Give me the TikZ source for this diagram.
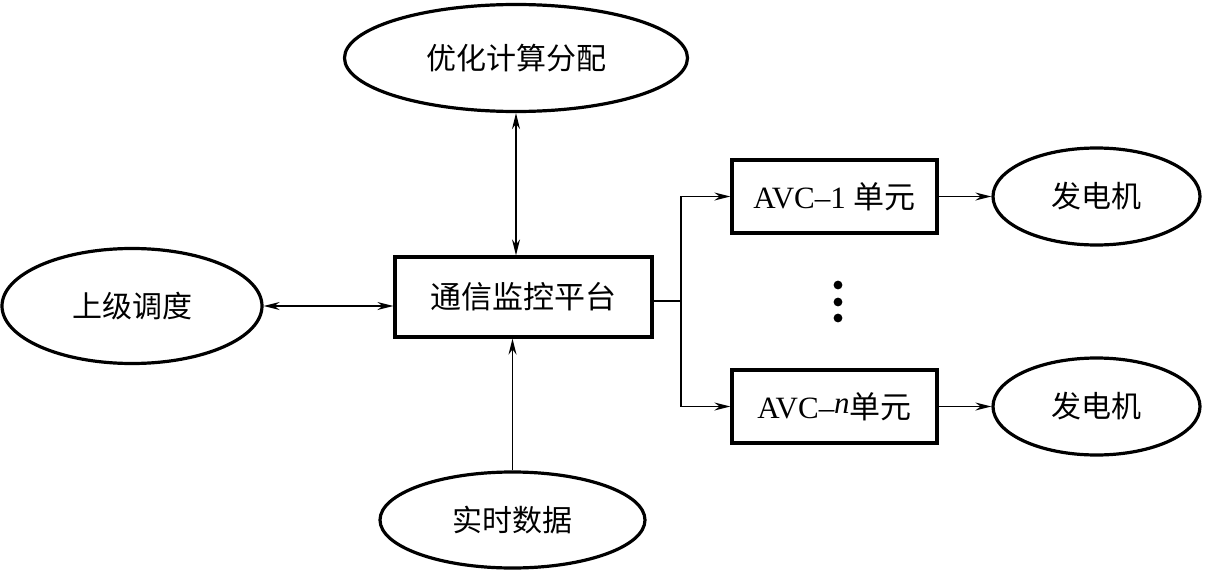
\documentclass[tikz,border=0pt]{standalone}
\usepackage{fontspec}
\setmainfont{Liberation Serif}
\newfontfamily\cjk{Noto Sans CJK SC}
\usetikzlibrary{shapes.geometric,arrows.meta}
\begin{document}
\begin{tikzpicture}[x=0.5pt,y=-0.5pt,
  ell/.style={ellipse,draw,line width=1.6pt,inner sep=0pt,font=\fontsize{15}{18}\selectfont\cjk},
  box/.style={rectangle,draw,line width=1.6pt,inner sep=0pt,font=\fontsize{15.5}{18}\selectfont},
  conn/.style={line width=0.8pt},
  tip/.style={-{Stealth[length=8pt,width=4pt]}},
  btip/.style={{Stealth[length=8pt,width=4pt]}-{Stealth[length=8pt,width=4pt]}}]
\useasboundingbox (0,0) rectangle (1206,573);
\node[ell,minimum width=171.5pt,minimum height=53.5pt] (opt) at (516,58) {优化计算分配};
\node[ell,minimum width=130pt,minimum height=57.5pt] (up) at (132,306) {上级调度};
\node[box,minimum width=128.5pt,minimum height=40pt] (plat) at (523.5,297) {\cjk 通信监控平台};
\node[ell,minimum width=132.5pt,minimum height=48pt] (rt) at (512.5,520) {实时数据};
\node[box,minimum width=102.5pt,minimum height=36.5pt] (a1) at (834.5,196.5) {AVC–1 {\cjk 单元}};
\node[box,minimum width=102.5pt,minimum height=36.5pt] (an) at (834.5,406.5) {AVC–\raisebox{0.3ex}{\itshape n}{\cjk 单元}};
\node[ell,minimum width=103.5pt,minimum height=48.5pt] (g1) at (1096.5,196.5) {发电机};
\node[ell,minimum width=103.5pt,minimum height=48.5pt] (gn) at (1096.5,406.5) {发电机};
\foreach \y/\n in {285/d1,302/d2,318/d3} \fill (838,\y) circle (2.2pt) coordinate (\n);
\coordinate (br) at (681,301);
\draw[conn,btip] (opt.south) -- (plat.north -| opt.south);
\draw[conn,tip] (rt.north) -- (plat.south -| rt.north);
\draw[conn,btip] (up.east) -- (plat.west |- up.east);
\draw[conn] (plat.east |- br) -- (br);
\draw[conn,tip] (br) |- (a1.west);
\draw[conn,tip] (br) |- (an.west);
\draw[conn,tip] (a1.east) -- (g1.west);
\draw[conn,tip] (an.east) -- (gn.west);
\end{tikzpicture}
\end{document}
